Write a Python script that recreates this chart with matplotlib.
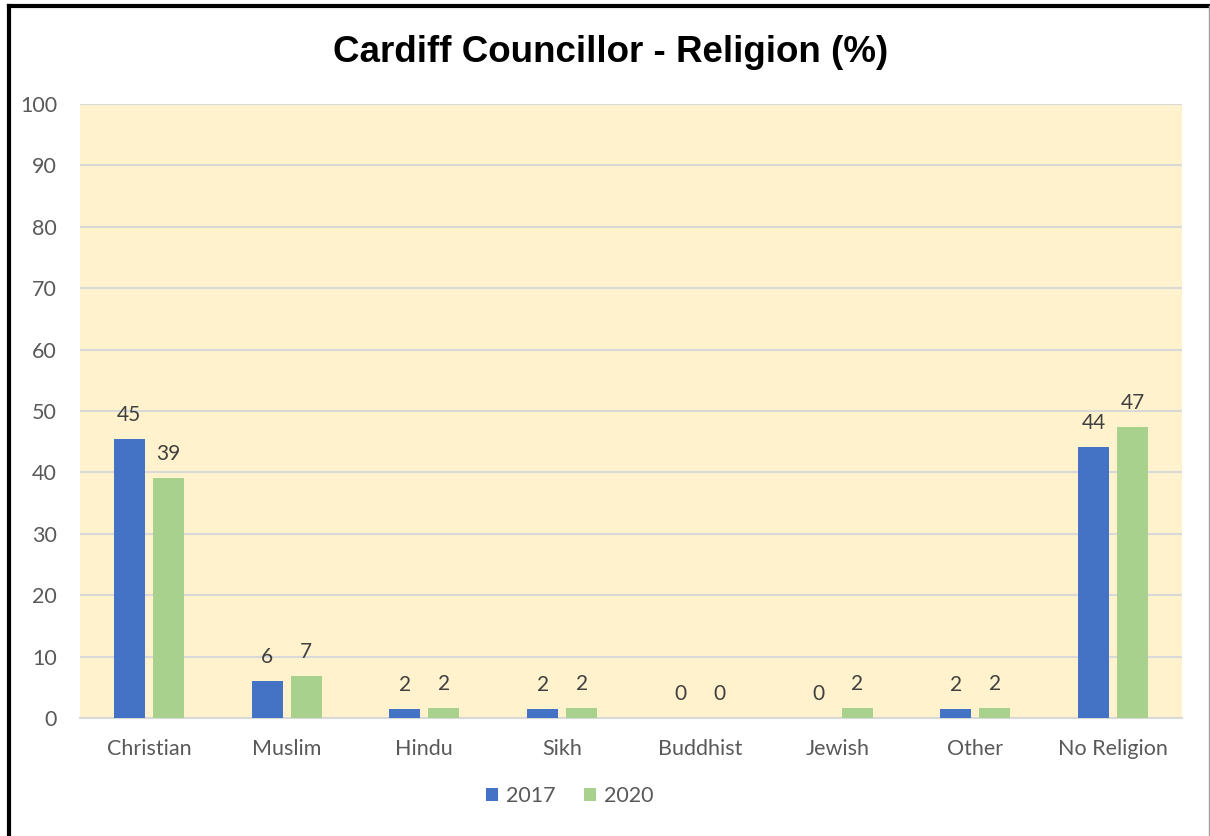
import matplotlib.pyplot as plt
from matplotlib.lines import Line2D
import numpy as np

categories = ["Christian", "Muslim", "Hindu", "Sikh", "Buddhist", "Jewish", "Other", "No Religion"]
vals_2017 = [45.4, 6.1, 1.5, 1.5, 0, 0, 1.5, 44.1]
vals_2020 = [39.1, 6.8, 1.7, 1.7, 0, 1.7, 1.7, 47.4]
series_names = ["2017", "2020"]

blue = "#4472C4"
green = "#A9D18E"
txt = "#595959"

plt.rcParams['font.family'] = ['Lato', 'DejaVu Sans']

fig = plt.figure(figsize=(12.1, 8.36), dpi=100)
ax = fig.add_axes([0.0661, 0.1411, 0.9107, 0.7344])
ax.set_facecolor("#FFF2CC")

x = np.arange(len(categories))
w = 0.225
off = 0.1415
b1 = ax.bar(x - off, vals_2017, w, color=blue, label=series_names[0], zorder=3)
b2 = ax.bar(x + off, vals_2020, w, color=green, label=series_names[1], zorder=3)

for bars in (b1, b2):
    ax.bar_label(bars, labels=[f"{v:.0f}" for v in bars.datavalues], padding=10,
                 fontsize=15, color="#404040")

ax.set_ylim(0, 100)
ax.set_xlim(-0.5, len(categories) - 0.5)
ax.set_yticks(range(0, 101, 10))
ax.set_xticks(x)
ax.set_xticklabels(categories)
ax.tick_params(axis="both", length=0, labelsize=15.5, colors=txt)
ax.tick_params(axis="y", pad=16.5)
ax.tick_params(axis="x", pad=15)
ax.grid(axis="y", color="#D9D9D9", linewidth=1.5, zorder=0)
for s in ("top", "right", "left"):
    ax.spines[s].set_visible(False)
ax.spines["bottom"].set_color("#D9D9D9")
ax.spines["bottom"].set_linewidth(1.5)

fig.text(0.505, 0.937, "Cardiff Councillor - Religion (%)", ha="center", va="center",
         fontsize=26.5, fontweight="bold", family=["Liberation Sans", "DejaVu Sans"])

fig.legend(handles=[b1, b2], loc="center", bbox_to_anchor=(0.471, 0.048), ncol=2,
           frameon=False, fontsize=15.5, labelcolor=txt, handlelength=0.55, handleheight=0.55,
           handletextpad=0.4, columnspacing=1.3)

# outer frame
fig.add_artist(Line2D([0.0075, 0.0075], [0, 0.993], transform=fig.transFigure, color="black", lw=3))
fig.add_artist(Line2D([0.0075, 1.0], [0.993, 0.993], transform=fig.transFigure, color="black", lw=3))
fig.add_artist(Line2D([0.999, 0.999], [0, 0.993], transform=fig.transFigure, color="#A0A0A0", lw=1))

fig.savefig("out.png", dpi=100)
